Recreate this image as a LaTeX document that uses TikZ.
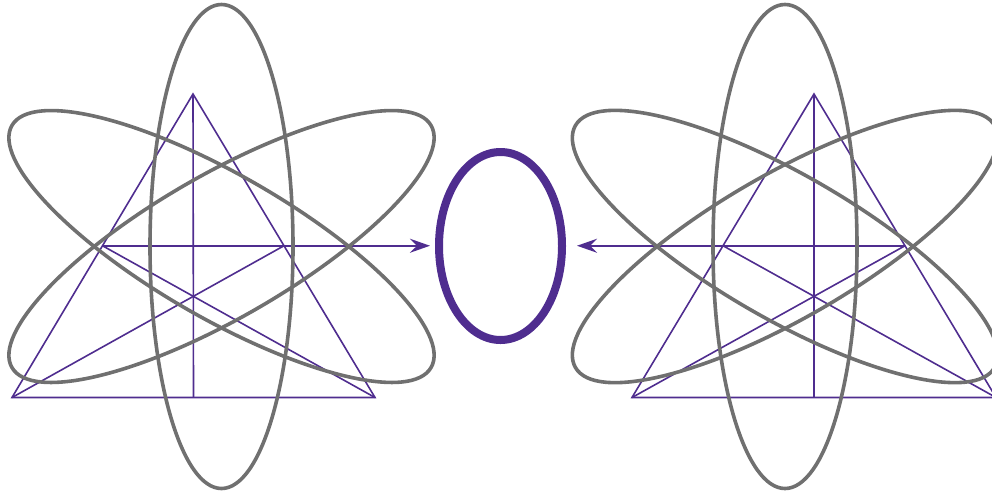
\documentclass[tikz,border=0pt]{standalone}
\usetikzlibrary{arrows.meta,calc}
\definecolor{violetline}{HTML}{4F2D8F}
\definecolor{orbitgray}{HTML}{707070}
\begin{document}
\begin{tikzpicture}[x=1pt,y=-1pt,
  orbit/.style={draw=orbitgray, line width=3.6pt},
  geo/.style={draw=violetline, line width=1.6pt},
  feed/.style={geo, -{Stealth[length=20pt,width=14pt,inset=7pt]}},
  ring/.style={draw=violetline, line width=8pt}]
\useasboundingbox (0,0) rectangle (992,493);
% left figure
\coordinate (LO) at (221.5,246.5);
\coordinate (LA) at (193,94);
\coordinate (LB) at (12,397.5);
\coordinate (LC) at (375,397.5);
\coordinate (LmAB) at ($(LA)!0.5!(LB)$);
\coordinate (LmAC) at ($(LA)!0.5!(LC)$);
\coordinate (LmBC) at ($(LB)!0.5!(LC)$);
\coordinate (Ltip) at (430,245.75);
\draw[geo] (LA) -- (LB) -- (LC) -- cycle;
\draw[geo] (LA) -- (LmBC);
\draw[geo] (LB) -- (LmAC);
\draw[geo] (LC) -- (LmAB);
\draw[feed] (LmAB) -- (Ltip);
\draw[orbit] (LO) ellipse [x radius=71.5, y radius=242];
\draw[orbit, rotate around={60:(LO)}] (LO) ellipse [x radius=71.5, y radius=242];
\draw[orbit, rotate around={-60:(LO)}] (LO) ellipse [x radius=71.5, y radius=242];
% right figure
\coordinate (RO) at (785,246.5);
\coordinate (RA) at (814,94);
\coordinate (RB) at (632,397.5);
\coordinate (RC) at (996,397.5);
\coordinate (RmAB) at ($(RA)!0.5!(RB)$);
\coordinate (RmAC) at ($(RA)!0.5!(RC)$);
\coordinate (RmBC) at ($(RB)!0.5!(RC)$);
\coordinate (Rtip) at (577,245.75);
\draw[geo] (RA) -- (RB) -- (RC) -- cycle;
\draw[geo] (RA) -- (RmBC);
\draw[geo] (RB) -- (RmAC);
\draw[geo] (RC) -- (RmAB);
\draw[feed] (RmAC) -- (Rtip);
\draw[orbit] (RO) ellipse [x radius=72, y radius=242];
\draw[orbit, rotate around={60:(RO)}] (RO) ellipse [x radius=72, y radius=242];
\draw[orbit, rotate around={-60:(RO)}] (RO) ellipse [x radius=72, y radius=242];
% centre ring
\coordinate (MO) at (500.5,246);
\draw[ring] (MO) ellipse [x radius=61.5, y radius=94];
\end{tikzpicture}
\end{document}
